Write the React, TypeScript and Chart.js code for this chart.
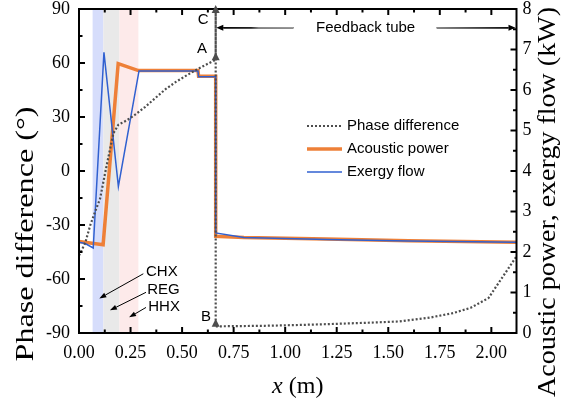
import React, { useEffect, useRef } from "react";
import { Chart, registerables } from "chart.js";

Chart.register(...registerables);

// ---------- data ----------
const phaseX = [0, 0.03, 0.055, 0.08, 0.102, 0.126, 0.15, 0.167, 0.191, 0.231, 0.272, 0.32, 0.37, 0.42, 0.47, 0.52, 0.57, 0.62, 0.663, 0.663, 0.663, 0.75, 0.9, 1.05, 1.2, 1.4, 1.55, 1.7, 1.816, 1.9, 1.986, 2.122];
const phaseY = [-47, -40, -30, -22, -15.5, -1.5, 11.8, 21, 25.7, 28.1, 31.3, 35.5, 40.5, 45.5, 49.5, 53, 56.3, 59.3, 61.8, 88, -86.3, -86.2, -86, -85.6, -85.1, -84.3, -83.6, -81.5, -78.9, -76, -70.6, -47.4];

const acousticX = [0, 0.117, 0.19, 0.288, 0.577, 0.58, 0.663, 0.663, 0.8, 1.2, 1.6, 2.122];
const acousticY = [2.26, 2.18, 6.65, 6.48, 6.48, 6.34, 6.34, 2.39, 2.36, 2.32, 2.28, 2.24];

const exergyX = [0, 0.03, 0.069, 0.121, 0.191, 0.291, 0.577, 0.58, 0.663, 0.663, 0.8, 1.2, 1.6, 2.122];
const exergyY = [2.24, 2.21, 2.1, 6.93, 3.62, 6.47, 6.47, 6.33, 6.33, 2.47, 2.36, 2.31, 2.27, 2.24];

const xTicks = [0, 0.25, 0.5, 0.75, 1.0, 1.25, 1.5, 1.75, 2.0];
const xMinor = [0.125, 0.375, 0.625, 0.875, 1.125, 1.375, 1.625, 1.875, 2.125];
const phaseTicks = [-90, -60, -30, 0, 30, 60, 90];
const phaseMinor = [-75, -45, -15, 15, 45, 75];
const powerTicks = [0, 1, 2, 3, 4, 5, 6, 7, 8];
const powerMinor = [0.5, 1.5, 2.5, 3.5, 4.5, 5.5, 6.5, 7.5];

const seriesLabels = ["Phase difference", "Acoustic power", "Exergy flow"];
const bandNames = ["CHX", "REG", "HHX"];
const bandStart = [0.066, 0.118, 0.196];
const bandEnd = [0.118, 0.196, 0.288];
const bandColors = ["#d6ddfb", "#e9e9e9", "#fdeaea"];

// annotation anchors (data units: x in m, y in degrees)
const bandLabelX = [0.325, 0.331, 0.336];
const bandLabelY = [-56.1, -66, -75.2];
const bandArrowFromX = [0.312, 0.325, 0.325];
const bandArrowFromY = [-57.1, -67.4, -75.8];
const bandArrowToX = [0.0985, 0.15, 0.243];
const bandArrowToY = [-70.8, -77.4, -81.3];

const pointNames = ["A", "B", "C"];
const pointX = [0.663, 0.663, 0.663];
const pointY = [61.8, -86.3, 88];
const pointLabelX = [0.597, 0.616, 0.602];
const pointLabelY = [67.9, -80.8, 84];

const feedbackLabel = "Feedback tube";
const feedbackX = 1.39;
const feedbackY = 79.6;
const feedbackLeftFrom = 1.04;
const feedbackLeftTo = 0.666;
const feedbackRightFrom = 1.735;
const feedbackRightTo = 2.122;

const SERIF = "'Liberation Serif', 'Times New Roman', Times, serif";
const SANS = "'Liberation Sans', Arial, sans-serif";
const ORANGE = "rgb(238,128,56)";
const BLUE = "rgb(48,96,208)";
const GREY = "#4d4d4d";

Chart.defaults.font.family = SERIF;
Chart.defaults.font.size = 18;
Chart.defaults.color = "#000";

function pts(xs: number[], ys: number[]) {
  return xs.map((x, i) => ({ x, y: ys[i] }));
}

function arrow(ctx: CanvasRenderingContext2D, x1: number, y1: number, x2: number, y2: number, len: number, half: number, color: string, width: number) {
  const a = Math.atan2(y2 - y1, x2 - x1);
  const bx = x2 - len * Math.cos(a);
  const by = y2 - len * Math.sin(a);
  ctx.save();
  ctx.strokeStyle = color;
  ctx.fillStyle = color;
  ctx.lineWidth = width;
  ctx.setLineDash([]);
  ctx.beginPath();
  ctx.moveTo(x1, y1);
  ctx.lineTo(bx, by);
  ctx.stroke();
  ctx.beginPath();
  ctx.moveTo(x2, y2);
  ctx.lineTo(bx + half * Math.sin(a), by - half * Math.cos(a));
  ctx.lineTo(bx - half * Math.sin(a), by + half * Math.cos(a));
  ctx.closePath();
  ctx.fill();
  ctx.restore();
}

const bandsPlugin = {
  id: "bands",
  beforeDatasetsDraw(chart: any) {
    const { ctx, chartArea, scales } = chart;
    const xs = scales.x;
    ctx.save();
    bandStart.forEach((s, i) => {
      const l = xs.getPixelForValue(s);
      const r = xs.getPixelForValue(bandEnd[i]);
      ctx.fillStyle = bandColors[i];
      ctx.fillRect(l, chartArea.top, r - l, chartArea.bottom - chartArea.top);
    });
    ctx.restore();
  },
};

const decorPlugin = {
  id: "decor",
  afterDraw(chart: any) {
    const { ctx, chartArea: ca, scales } = chart;
    const xs = scales.x, yl = scales.y, yr = scales.y1;
    ctx.save();
    // frame
    ctx.strokeStyle = "#000";
    ctx.lineWidth = 2;
    ctx.setLineDash([]);
    ctx.strokeRect(ca.left, ca.top, ca.right - ca.left, ca.bottom - ca.top);
    // inward ticks
    const tick = (x1: number, y1: number, x2: number, y2: number) => {
      ctx.beginPath();
      ctx.moveTo(x1, y1);
      ctx.lineTo(x2, y2);
      ctx.stroke();
    };
    const MJ = 6, MN = 3.5;
    xTicks.forEach((v) => {
      const p = xs.getPixelForValue(v);
      tick(p, ca.bottom, p, ca.bottom - MJ);
      tick(p, ca.top, p, ca.top + MJ);
    });
    xMinor.forEach((v) => {
      if (v > xs.max) return;
      const p = xs.getPixelForValue(v);
      tick(p, ca.bottom, p, ca.bottom - MN);
      tick(p, ca.top, p, ca.top + MN);
    });
    phaseTicks.forEach((v) => { const p = yl.getPixelForValue(v); tick(ca.left, p, ca.left + MJ, p); });
    phaseMinor.forEach((v) => { const p = yl.getPixelForValue(v); tick(ca.left, p, ca.left + MN, p); });
    powerTicks.forEach((v) => { const p = yr.getPixelForValue(v); tick(ca.right, p, ca.right - MJ, p); });
    powerMinor.forEach((v) => { const p = yr.getPixelForValue(v); tick(ca.right, p, ca.right - MN, p); });

    // A B C arrowheads (pointing up)
    ctx.fillStyle = GREY;
    pointX.forEach((x, i) => {
      const px = xs.getPixelForValue(x);
      const py = yl.getPixelForValue(pointY[i]);
      ctx.beginPath();
      ctx.moveTo(px, py - 7.5);
      ctx.lineTo(px - 4, py + 0.5);
      ctx.lineTo(px + 4, py + 0.5);
      ctx.closePath();
      ctx.fill();
    });
    ctx.fillStyle = "#000";
    ctx.font = `15px ${SANS}`;
    ctx.textAlign = "center";
    ctx.textBaseline = "middle";
    pointNames.forEach((n, i) => {
      ctx.fillText(n, xs.getPixelForValue(pointLabelX[i]), yl.getPixelForValue(pointLabelY[i]));
    });

    // Feedback tube
    const fy = yl.getPixelForValue(feedbackY);
    ctx.fillText(feedbackLabel, xs.getPixelForValue(feedbackX), fy);
    {
      const x1 = xs.getPixelForValue(feedbackLeftFrom), x2 = xs.getPixelForValue(feedbackLeftTo);
      const g = ctx.createLinearGradient(x1, 0, x2, 0);
      g.addColorStop(0, "#9a9a9a");
      g.addColorStop(0.45, "#8a8a8a");
      g.addColorStop(0.55, "#222");
      g.addColorStop(1, "#000");
      arrow(ctx, x1, fy, x2, fy, 7, 3, "#000", 1.5);
      ctx.strokeStyle = g;
      ctx.lineWidth = 1.5;
      ctx.beginPath();
      ctx.moveTo(x1, fy);
      ctx.lineTo(x2 + 7, fy);
      ctx.stroke();
      const x3 = xs.getPixelForValue(feedbackRightFrom), x4 = xs.getPixelForValue(feedbackRightTo);
      arrow(ctx, x3, fy, x4 - 1, fy, 7, 3, "#000", 1.5);
      const g2 = ctx.createLinearGradient(x3, 0, x4, 0);
      g2.addColorStop(0, "#8a8a8a");
      g2.addColorStop(0.5, "#444");
      g2.addColorStop(1, "#000");
      ctx.strokeStyle = g2;
      ctx.beginPath();
      ctx.moveTo(x3, fy);
      ctx.lineTo(x4 - 8, fy);
      ctx.stroke();
    }

    // band labels and arrows
    ctx.textAlign = "left";
    ctx.fillStyle = "#000";
    bandNames.forEach((n, i) => {
      ctx.fillText(n, xs.getPixelForValue(bandLabelX[i]), yl.getPixelForValue(bandLabelY[i]));
      arrow(
        ctx,
        xs.getPixelForValue(bandArrowFromX[i]), yl.getPixelForValue(bandArrowFromY[i]),
        xs.getPixelForValue(bandArrowToX[i]), yl.getPixelForValue(bandArrowToY[i]),
        7, 2.5, "#000", 1
      );
    });

    // legend
    const lx1 = ca.left + 228, lx2 = ca.left + 263, tx = ca.left + 268;
    const rows = [ca.top + 117, ca.top + 140, ca.top + 163];
    const styles = [
      { c: GREY, w: 2, d: [2, 2] },
      { c: ORANGE, w: 3.5, d: [] as number[] },
      { c: BLUE, w: 1.5, d: [] as number[] },
    ];
    seriesLabels.forEach((lab, i) => {
      const st = styles[i];
      ctx.strokeStyle = st.c;
      ctx.lineWidth = st.w;
      ctx.setLineDash(st.d);
      ctx.beginPath();
      ctx.moveTo(lx1, rows[i]);
      ctx.lineTo(lx2, rows[i]);
      ctx.stroke();
      ctx.setLineDash([]);
      ctx.fillStyle = "#000";
      ctx.fillText(lab, tx, rows[i]);
    });

    // axis titles
    ctx.fillStyle = "#000";
    ctx.textAlign = "center";
    ctx.textBaseline = "middle";
    const vtitle = (text: string, cx: number, cy: number, target: number) => {
      ctx.save();
      ctx.font = `25px ${SERIF}`;
      const w = ctx.measureText(text).width;
      ctx.translate(cx, cy);
      ctx.rotate(-Math.PI / 2);
      ctx.scale(target / w, 1);
      ctx.fillText(text, 0, 0);
      ctx.restore();
    };
    vtitle("Phase difference (°)", 26, (ca.top + ca.bottom) / 2 + 63, 255);
    vtitle("Acoustic power, exergy flow (kW)", ca.right + 32, (ca.top + ca.bottom) / 2 + 31, 390);

    const cx = (ca.left + ca.right) / 2;
    ctx.font = `italic 24px ${SERIF}`;
    const wx = ctx.measureText("x").width;
    ctx.font = `24px ${SERIF}`;
    const wr = ctx.measureText(" (m)").width;
    const start = cx - (wx + wr) / 2;
    ctx.textAlign = "left";
    ctx.font = `italic 24px ${SERIF}`;
    ctx.fillText("x", start, ca.bottom + 54);
    ctx.font = `24px ${SERIF}`;
    ctx.fillText(" (m)", start + wx, ca.bottom + 54);
    ctx.restore();
  },
};

export default function App() {
  const ref = useRef<HTMLCanvasElement | null>(null);
  useEffect(() => {
    if (!ref.current) return;
    const tickFont = { family: SERIF, size: 18 };
    const chart = new Chart(ref.current, {
      type: "line",
      data: {
        datasets: [
          {
            label: seriesLabels[0],
            data: pts(phaseX, phaseY),
            yAxisID: "y",
            borderColor: GREY,
            borderWidth: 2.2,
            borderDash: [2, 2],
            pointRadius: 0,
            tension: 0,
            order: 0,
          },
          {
            label: seriesLabels[1],
            data: pts(acousticX, acousticY),
            yAxisID: "y1",
            borderColor: ORANGE,
            borderWidth: 3.5,
            borderJoinStyle: "miter",
            pointRadius: 0,
            tension: 0,
            order: 2,
          },
          {
            label: seriesLabels[2],
            data: pts(exergyX, exergyY),
            yAxisID: "y1",
            borderColor: BLUE,
            borderWidth: 1.5,
            pointRadius: 0,
            tension: 0,
            order: 1,
          },
        ],
      },
      options: {
        animation: false,
        responsive: false,
        maintainAspectRatio: false,
        parsing: false,
        layout: { padding: { top: 9, left: 0, right: 0, bottom: 0 } },
        plugins: { legend: { display: false }, tooltip: { enabled: false } },
        scales: {
          x: {
            type: "linear",
            min: 0,
            max: 2.122,
            afterBuildTicks: (s: any) => { s.ticks = xTicks.map((v) => ({ value: v })); },
            afterFit: (s: any) => { s.height = 71; s.paddingLeft = 0; s.paddingRight = 0; },
            ticks: { font: tickFont, color: "#000", padding: 9, maxRotation: 0, autoSkip: false, callback: (v: any) => Number(v).toFixed(2) },
            grid: { display: false, drawTicks: false },
            border: { display: false },
          },
          y: {
            type: "linear",
            position: "left",
            min: -90,
            max: 90,
            afterBuildTicks: (s: any) => { s.ticks = phaseTicks.map((v) => ({ value: v })); },
            afterFit: (s: any) => { s.width = 79; s.paddingTop = 0; s.paddingBottom = 0; },
            ticks: { font: tickFont, color: "#000", padding: 9, autoSkip: false },
            grid: { display: false, drawTicks: false },
            border: { display: false },
          },
          y1: {
            type: "linear",
            position: "right",
            min: 0,
            max: 8,
            afterBuildTicks: (s: any) => { s.ticks = powerTicks.map((v) => ({ value: v })); },
            afterFit: (s: any) => { s.width = 51.5; s.paddingTop = 0; s.paddingBottom = 0; },
            ticks: { font: tickFont, color: "#000", padding: 6, autoSkip: false },
            grid: { display: false, drawTicks: false },
            border: { display: false },
          },
        },
      },
      plugins: [bandsPlugin, decorPlugin],
    } as any);
    return () => chart.destroy();
  }, []);
  return (
    <div style={{ position: "absolute", left: 0, top: 0, width: 568, height: 404, background: "#fff" }}>
      <canvas ref={ref} width={568} height={404} style={{ display: "block" }} />
    </div>
  );
}
